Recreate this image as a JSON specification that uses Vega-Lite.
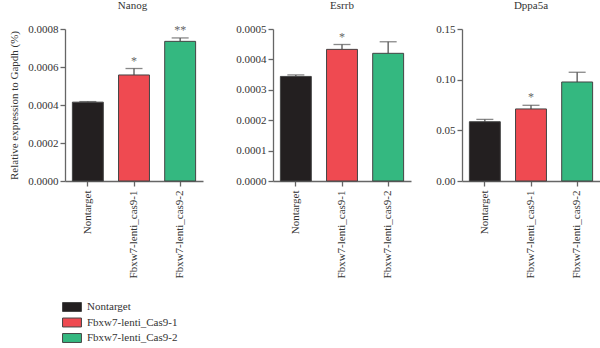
{
  "$schema": "https://vega.github.io/schema/vega-lite/v6.json",
  "padding": {"left": 8, "top": 0, "right": 0, "bottom": 0},
  "config": {
    "font": "Liberation Serif",
    "view": {"stroke": null},
    "axis": {"labelFont": "Liberation Serif", "labelFontSize": 11, "labelColor": "#333", "titleFont": "Liberation Serif", "titleFontSize": 11, "titleFontWeight": "normal", "titleColor": "#333", "domainColor": "#666", "tickColor": "#666", "domainWidth": 1.3, "tickWidth": 1.3, "tickSize": 5, "grid": false},
    "title": {"font": "Liberation Serif", "fontSize": 11, "fontWeight": "normal", "color": "#333", "offset": 12},
    "legend": {"labelFont": "Liberation Serif", "labelFontSize": 11, "labelColor": "#333"}
  },
  "datasets": {
    "expr": [
      {"gene": "Nanog", "label": "Nontarget", "group": "Nontarget", "value": 0.000415, "err": 0.000418, "sig": ""},
      {"gene": "Nanog", "label": "Fbxw7-lenti_cas9-1", "group": "Fbxw7-lenti_Cas9-1", "value": 0.000558, "err": 0.000592, "sig": "*"},
      {"gene": "Nanog", "label": "Fbxw7-lenti_cas9-2", "group": "Fbxw7-lenti_Cas9-2", "value": 0.000735, "err": 0.000753, "sig": "**"},
      {"gene": "Esrrb", "label": "Nontarget", "group": "Nontarget", "value": 0.000344, "err": 0.000349, "sig": ""},
      {"gene": "Esrrb", "label": "Fbxw7-lenti_cas9-1", "group": "Fbxw7-lenti_Cas9-1", "value": 0.000433, "err": 0.000449, "sig": "*"},
      {"gene": "Esrrb", "label": "Fbxw7-lenti_cas9-2", "group": "Fbxw7-lenti_Cas9-2", "value": 0.00042, "err": 0.000458, "sig": ""},
      {"gene": "Dppa5a", "label": "Nontarget", "group": "Nontarget", "value": 0.0585, "err": 0.0608, "sig": ""},
      {"gene": "Dppa5a", "label": "Fbxw7-lenti_cas9-1", "group": "Fbxw7-lenti_Cas9-1", "value": 0.0711, "err": 0.0747, "sig": "*"},
      {"gene": "Dppa5a", "label": "Fbxw7-lenti_cas9-2", "group": "Fbxw7-lenti_Cas9-2", "value": 0.0977, "err": 0.1073, "sig": ""}
    ]
  },
  "resolve": {"scale": {"y": "independent", "x": "independent"}},
  "spacing": 51,
  "bounds": "flush",
  "hconcat": [
    {
      "title": {"text": "Nanog", "dx": -11},
      "width": 157, "height": 152,
      "data": {"name": "expr"},
      "transform": [{"filter": "datum.gene === 'Nanog'"}],
      "encoding": {
        "x": {"field": "label", "type": "nominal", "sort": ["Nontarget", "Fbxw7-lenti_cas9-1", "Fbxw7-lenti_cas9-2"], "scale": {"paddingInner": 0.33, "paddingOuter": 0.16, "range": [0, 138]}, "axis": {"title": null, "labelAngle": -90, "labelPadding": 4}},
        "y": {"field": "value", "type": "quantitative", "scale": {"domain": [0, 0.0008], "nice": false}, "axis": {"title": "Relative expression to Gapdh (%)", "values": [0, 0.0002, 0.0004, 0.0006, 0.0008], "format": ".4f", "titlePadding": 8}}
      },
      "layer": [
        {"mark": {"type": "rule", "color": "#555", "strokeWidth": 1.3}, "encoding": {"y": {"field": "value", "type": "quantitative"}, "y2": {"field": "err"}}},
        {"mark": {"type": "tick", "color": "#555", "thickness": 1.3, "size": 17}, "encoding": {"y": {"field": "err", "type": "quantitative"}}},
        {"mark": {"type": "bar", "stroke": "#444", "strokeWidth": 1}, "encoding": {"color": {"field": "group", "type": "nominal", "scale": {"domain": ["Nontarget", "Fbxw7-lenti_Cas9-1", "Fbxw7-lenti_Cas9-2"], "range": ["#231f20", "#ef4a51", "#34b880"]}, "legend": {"title": null, "orient": "none", "legendX": 1, "legendY": 272, "symbolType": "M-1.8,-0.85H1.8V0.85H-1.8Z", "symbolSize": 110, "symbolStrokeColor": "#444", "symbolStrokeWidth": 1, "labelOffset": 9, "rowPadding": 1.5}}}},
        {"mark": {"type": "text", "fill": "#666", "fontSize": 12, "dy": -8}, "encoding": {"y": {"field": "err", "type": "quantitative"}, "text": {"field": "sig"}}}
      ]
    },
    {
      "title": "Esrrb",
      "width": 138, "height": 152,
      "data": {"name": "expr"},
      "transform": [{"filter": "datum.gene === 'Esrrb'"}],
      "encoding": {
        "x": {"field": "label", "type": "nominal", "sort": ["Nontarget", "Fbxw7-lenti_cas9-1", "Fbxw7-lenti_cas9-2"], "scale": {"paddingInner": 0.33, "paddingOuter": 0.16}, "axis": {"title": null, "labelAngle": -90, "labelPadding": 4}},
        "y": {"field": "value", "type": "quantitative", "scale": {"domain": [0, 0.0005], "nice": false}, "axis": {"title": null, "values": [0, 0.0001, 0.0002, 0.0003, 0.0004, 0.0005], "format": ".4f"}}
      },
      "layer": [
        {"mark": {"type": "rule", "color": "#555", "strokeWidth": 1.3}, "encoding": {"y": {"field": "value", "type": "quantitative"}, "y2": {"field": "err"}}},
        {"mark": {"type": "tick", "color": "#555", "thickness": 1.3, "size": 17}, "encoding": {"y": {"field": "err", "type": "quantitative"}}},
        {"mark": {"type": "bar", "stroke": "#444", "strokeWidth": 1}, "encoding": {"color": {"field": "group", "type": "nominal"}}},
        {"mark": {"type": "text", "fill": "#666", "fontSize": 12, "dy": -8}, "encoding": {"y": {"field": "err", "type": "quantitative"}, "text": {"field": "sig"}}}
      ]
    },
    {
      "title": "Dppa5a",
      "width": 138, "height": 152,
      "data": {"name": "expr"},
      "transform": [{"filter": "datum.gene === 'Dppa5a'"}],
      "encoding": {
        "x": {"field": "label", "type": "nominal", "sort": ["Nontarget", "Fbxw7-lenti_cas9-1", "Fbxw7-lenti_cas9-2"], "scale": {"paddingInner": 0.33, "paddingOuter": 0.16}, "axis": {"title": null, "labelAngle": -90, "labelPadding": 4}},
        "y": {"field": "value", "type": "quantitative", "scale": {"domain": [0, 0.15], "nice": false}, "axis": {"title": null, "values": [0, 0.05, 0.1, 0.15], "format": ".2f"}}
      },
      "layer": [
        {"mark": {"type": "rule", "color": "#555", "strokeWidth": 1.3}, "encoding": {"y": {"field": "value", "type": "quantitative"}, "y2": {"field": "err"}}},
        {"mark": {"type": "tick", "color": "#555", "thickness": 1.3, "size": 17}, "encoding": {"y": {"field": "err", "type": "quantitative"}}},
        {"mark": {"type": "bar", "stroke": "#444", "strokeWidth": 1}, "encoding": {"color": {"field": "group", "type": "nominal"}}},
        {"mark": {"type": "text", "fill": "#666", "fontSize": 12, "dy": -8}, "encoding": {"y": {"field": "err", "type": "quantitative"}, "text": {"field": "sig"}}}
      ]
    }
  ]
}
